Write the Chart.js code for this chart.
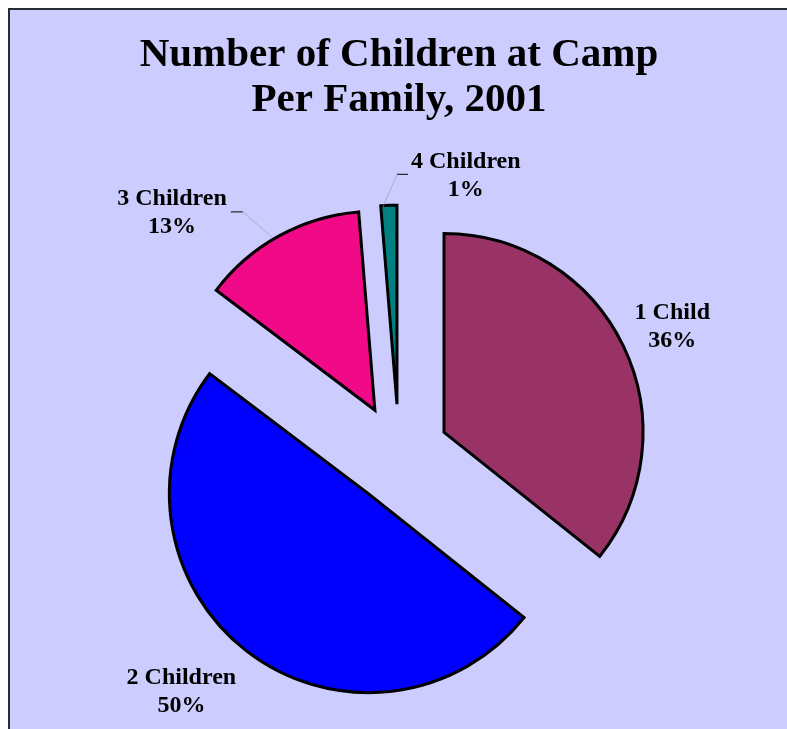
<!DOCTYPE html>
<html>
<head>
<meta charset="utf-8">
<title>Number of Children at Camp Per Family, 2001</title>
<script src="https://cdn.jsdelivr.net/npm/chart.js@4.4.0/dist/chart.umd.min.js"></script>
<style>
    html, body { margin: 0; padding: 0; background: #fff; overflow: hidden; width: 787px; height: 729px; }
    #frame {
        position: absolute; left: 8px; top: 8px; width: 800px; height: 800px;
        background: #ccccff; border-left: 2px solid #2b2b33; border-top: 2px solid #2b2b33;
    }
    #chart { position: absolute; left: 0; top: 0; }
</style>
</head>
<body>
<div id="frame"></div>
<canvas id="chart" width="787" height="800" style="width:787px;height:800px"></canvas>
<script>
// data (slice angles; labels show the rounded shares)
const categories = ['1 Child', '2 Children', '3 Children', '4 Children'];
const values = [35.7, 49.6, 13.4, 1.3];

// styling
const sliceColors = ['#993366', '#0000ff', '#f00a87', '#008080'];
const EXPLODE = 50;          // px each slice is pulled out
const labelNudge = [[49, -19], [-65, 41], [-107, -23], [77, -30]];
const leaderSide = [null, null, 'right', 'left'];
const SERIF = '"Liberation Serif", "Times New Roman", serif';

// pull each slice out along its mid angle
const explodePlugin = {
    id: 'explode',
    afterDatasetsUpdate(chart) {
        chart.getDatasetMeta(0).data.forEach(arc => {
            const mid = (arc.startAngle + arc.endAngle) / 2;
            arc.x += Math.cos(mid) * EXPLODE;
            arc.y += Math.sin(mid) * EXPLODE;
        });
    }
};

// category + percent labels outside the slices
const labelPlugin = {
    id: 'sliceLabels',
    afterDatasetsDraw(chart) {
        const ctx = chart.ctx;
        const total = values.reduce((a, b) => a + b, 0);
        ctx.save();
        ctx.font = 'bold 24px ' + SERIF;
        ctx.fillStyle = '#000';
        ctx.textAlign = 'center';
        ctx.textBaseline = 'middle';
        chart.getDatasetMeta(0).data.forEach((arc, i) => {
            const mid = (arc.startAngle + arc.endAngle) / 2;
            const ex = arc.x + Math.cos(mid) * arc.outerRadius;
            const ey = arc.y + Math.sin(mid) * arc.outerRadius;
            const lx = ex + labelNudge[i][0];
            const ly = ey + labelNudge[i][1];
            const pct = Math.round(values[i] / total * 100) + '%';
            ctx.fillText(categories[i], lx, ly - 14);
            ctx.fillText(pct, lx, ly + 14);

            if (leaderSide[i]) {
                const w = ctx.measureText(categories[i]).width;
                const dy = ly - 14 + 13;
                let x0, x1;
                if (leaderSide[i] === 'right') { x0 = lx + w / 2 + 4; x1 = x0 + 12; }
                else { x1 = lx - w / 2 - 3; x0 = x1 - 11; }
                ctx.strokeStyle = '#000';
                ctx.lineWidth = 1;
                ctx.beginPath();
                ctx.moveTo(x0, dy); ctx.lineTo(x1, dy);
                ctx.stroke();
                const from = leaderSide[i] === 'right' ? x1 : x0;
                ctx.strokeStyle = 'rgba(150,150,170,0.6)';
                ctx.beginPath();
                ctx.moveTo(from, dy); ctx.lineTo(ex - 6, ey + 2);
                ctx.stroke();
            }
        });
        ctx.restore();
    }
};

new Chart(document.getElementById('chart'), {
    type: 'pie',
    data: {
        labels: categories,
        datasets: [{
            data: values,
            backgroundColor: sliceColors,
            borderColor: '#000',
            borderWidth: 3,
            borderJoinStyle: 'miter',
            radius: 199
        }]
    },
    options: {
        responsive: false,
        animation: false,
        events: [],
        layout: { padding: { left: 11, right: 0, top: 0, bottom: 24 } },
        plugins: {
            legend: { display: false },
            tooltip: { enabled: false },
            title: {
                display: true,
                text: ['Number of Children at Camp', 'Per Family, 2001'],
                color: '#000',
                font: { family: SERIF, size: 41, weight: 'bold', lineHeight: 1.1 },
                padding: { top: 33, bottom: 9 }
            }
        }
    },
    plugins: [explodePlugin, labelPlugin]
});
</script>
</body>
</html>
